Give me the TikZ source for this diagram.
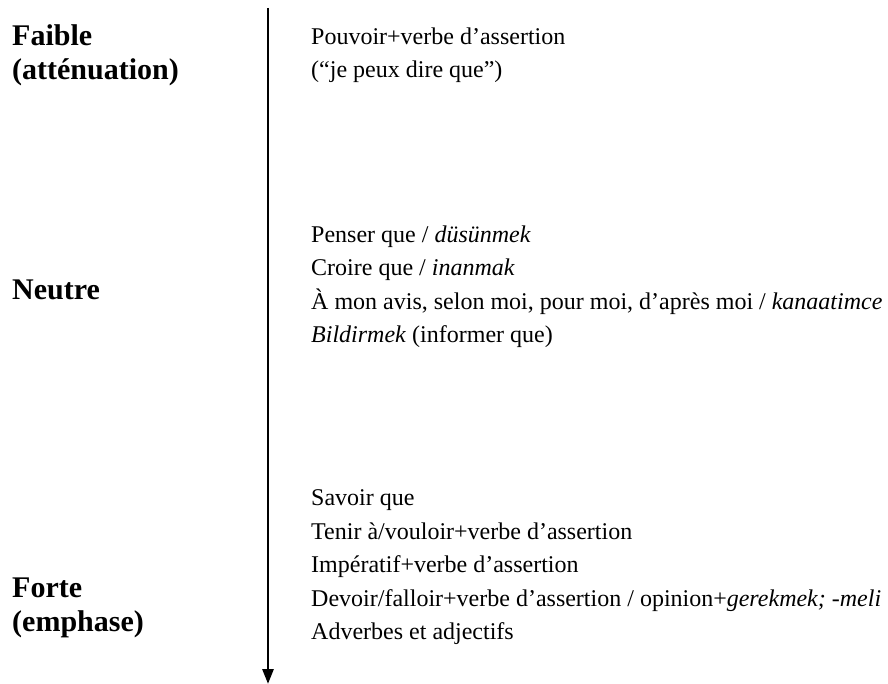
\documentclass[tikz,border=0pt]{standalone}
\usepackage{fontspec}
\setmainfont{Liberation Serif}
\usetikzlibrary{
  arrows.meta
}
\tikzset{
  level/.style={
    anchor=base west,
    inner sep=0pt,
    font=\fontsize{30}{34}\selectfont\bfseries
  },
  item/.style={
    anchor=base west,
    inner sep=0pt,
    font=\fontsize{24}{33}\selectfont
  }
}

\begin{document}
\begin{tikzpicture}[
      x=1pt, y=-1pt,
      >={Triangle[length=15pt,width=11pt]}
      ]
      \useasboundingbox (0,0) rectangle (888,684);

      \coordinate (top) at (268,8);
      \coordinate (bottom) at (268,684);
      \draw[->, line width=2.8pt] (top) -- (bottom);

      % degrees
      \node[level] (faible) at (12,46) {Faible};
      \node[level] (attenuation) at (12,80) {(atténuation)};
      \node[level] (neutre) at (12,300) {Neutre};
      \node[level] (forte) at (12,597) {Forte};
      \node[level] (emphase) at (12,631) {(emphase)};

      \foreach \y/\t [count=\i] in {
        45/{Pouvoir+verbe d’assertion},
        78/{(“je peux dire que”)},
        243/{Penser que / \textit{düsünmek}},
        276/{Croire que / \textit{inanmak}},
        309/{À mon avis, selon moi, pour moi, d’après moi / \textit{kanaatimce}},
        342/{\textit{Bildirmek} (informer que)},
        505/{Savoir que},
        539/{Tenir à/vouloir+verbe d’assertion},
        572/{Impératif+verbe d’assertion},
        606/{Devoir/falloir+verbe d’assertion / opinion+\textit{gerekmek; -meli}},
        639/{Adverbes et adjectifs}}{
        \node[item] (row\i) at (311,\y) {\t};
      }
    \end{tikzpicture}
\end{document}
